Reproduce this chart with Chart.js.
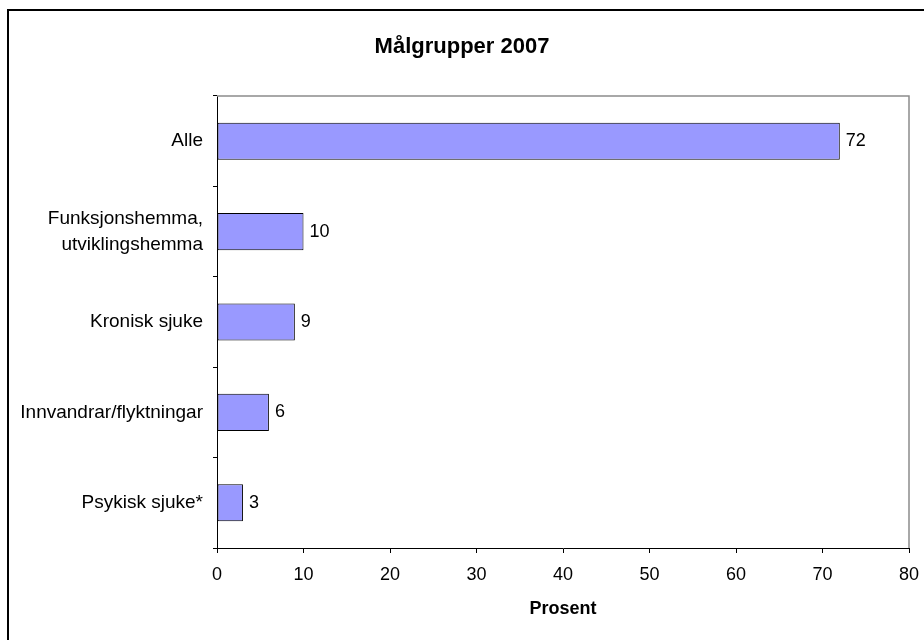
<!DOCTYPE html>
<html>
<head>
<meta charset="utf-8">
<script src="https://cdn.jsdelivr.net/npm/chart.js@4/dist/chart.umd.min.js"></script>
<style>
  body { margin: 0; background: #fff; }
  #wrap { width: 924px; height: 640px; position: relative; }
</style>
</head>
<body>
<div id="wrap"><canvas id="chart" width="924" height="640"></canvas></div>
<script>
const categories = ["Alle", ["Funksjonshemma,", "utviklingshemma"], "Kronisk sjuke", "Innvandrar/flyktningar", "Psykisk sjuke*"];
const values = [72, 10, 9, 6, 3];
const xTicks = [0, 10, 20, 30, 40, 50, 60, 70, 80];

const font = "'Liberation Sans', Arial, sans-serif";

// frame, plot border, title and value labels
const extras = {
  id: "extras",
  afterDraw(chart) {
    const ctx = chart.ctx;
    const a = chart.chartArea;
    ctx.save();
    // outer frame (top + left visible)
    ctx.strokeStyle = "#000";
    ctx.lineWidth = 2;
    ctx.beginPath();
    ctx.moveTo(8, 640);
    ctx.lineTo(8, 10);
    ctx.lineTo(924, 10);
    ctx.stroke();
    // plot area top/right in grey
    ctx.strokeStyle = "#8c8c8c";
    ctx.lineWidth = 1.5;
    ctx.beginPath();
    ctx.moveTo(a.left, a.top);
    ctx.lineTo(a.right, a.top);
    ctx.lineTo(a.right, a.bottom);
    ctx.stroke();
    // title
    ctx.fillStyle = "#000";
    ctx.font = "bold 22px " + font;
    ctx.textAlign = "center";
    ctx.textBaseline = "middle";
    ctx.fillText("Målgrupper 2007", 462, 47);
    // value labels
    ctx.font = "18px " + font;
    ctx.textAlign = "left";
    const meta = chart.getDatasetMeta(0);
    meta.data.forEach((bar, i) => {
      ctx.fillText(String(values[i]), bar.x + 6, bar.y);
    });
    ctx.restore();
  }
};

new Chart(document.getElementById("chart"), {
  type: "bar",
  data: {
    labels: categories,
    datasets: [{
      data: values,
      backgroundColor: "#9999ff",
      borderColor: "#000",
      borderWidth: 1,
      borderSkipped: false,
      categoryPercentage: 1,
      barPercentage: 0.41
    }]
  },
  options: {
    indexAxis: "y",
    responsive: false,
    animation: false,
    layout: { padding: { top: 96, right: 15, left: 0, bottom: 20 } },
    plugins: { legend: { display: false }, tooltip: { enabled: false } },
    scales: {
      x: {
        min: 0,
        max: 80,
        afterFit(s) { s.height = 72; s.paddingLeft = 0; s.paddingRight = 0; },
        afterBuildTicks(s) { s.ticks = xTicks.map(v => ({ value: v })); },
        border: { color: "#000", width: 1 },
        grid: { drawOnChartArea: false, color: "#000", tickLength: 5 },
        ticks: { color: "#000", font: { family: font, size: 18 }, padding: 11 },
        title: {
          display: true,
          text: "Prosent",
          color: "#000",
          font: { family: font, size: 18, weight: "bold" },
          padding: { top: 12, bottom: 0 }
        }
      },
      y: {
        afterFit(s) { s.width = 217; },
        border: { color: "#000", width: 1 },
        grid: { drawOnChartArea: false, color: "#000", tickLength: 4, offset: true },
        ticks: { color: "#000", font: { family: font, size: 19, lineHeight: 1.35 }, padding: 10 }
      }
    }
  },
  plugins: [extras]
});
</script>
</body>
</html>
